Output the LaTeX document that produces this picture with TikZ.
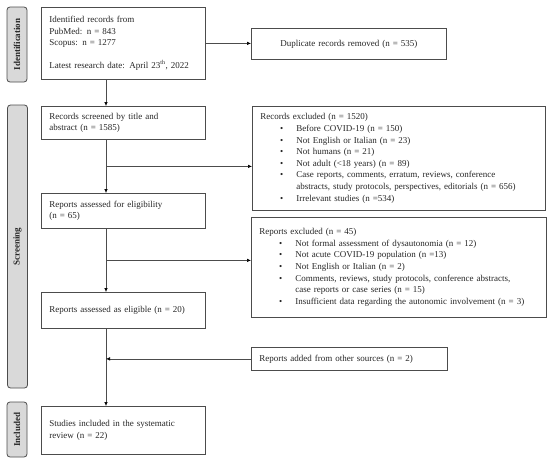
\documentclass[tikz,border=0pt]{standalone}
\usepackage{fontspec}
\setmainfont{Liberation Serif}
\usetikzlibrary{arrows.meta,calc}
\newcommand{\bitem}[1]{\makebox[36pt][r]{\textbullet\hspace{13pt}}#1}
\newcommand{\bcont}{\hspace*{36pt}}
\tikzset{
  box/.style={draw=black!70, line width=0.8pt, anchor=north west, inner xsep=8pt, inner ysep=0pt,
    align=left, font=\fontsize{9}{11.6}\selectfont, text=black!85},
  side/.style={draw=black!70, fill=black!15, line width=0.8pt, rounded corners=3pt, rotate=90,
    minimum height=20pt, inner sep=0pt, font=\fontsize{9}{11}\selectfont\bfseries, text=black!85},
  arr/.style={draw=black!70, line width=0.6pt, -{Latex[length=4pt,width=3.5pt,black]}},
}

\begin{document}
\begin{tikzpicture}[x=1pt,y=-1pt]
  \useasboundingbox (0,0) rectangle (550,463);

  \node[side, minimum width=75pt] (idlab) at (17,44.5) {Identification};
  \node[side, minimum width=283pt] (screenlab) at (17.5,246.5) {Screening};
  \node[side, minimum width=55pt] (incllab) at (17,429.5) {Included};

  \node[box, text width=148pt, minimum height=72pt] (ident) at (41,7)
    {Identified records from\\PubMed: n = 843\\Scopus: n = 1277\\[11.6pt]Latest research date: April 23\textsuperscript{th}, 2022};
  \node[box, text width=179pt, minimum height=31pt, align=center] (dup) at (251,28)
    {Duplicate records removed (n = 535)};
  \node[box, text width=148pt, minimum height=33pt] (screened) at (41,106)
    {Records screened by title and\\abstract (n = 1585)};
  \node[box, text width=277pt, minimum height=104pt] (recexcl) at (252,106)
    {Records excluded (n = 1520)\\
     \bitem{Before COVID-19 (n = 150)}\\
     \bitem{Not English or Italian (n = 23)}\\
     \bitem{Not humans (n = 21)}\\
     \bitem{Not adult (<18 years) (n = 89)}\\
     \bitem{Case reports, comments, erratum, reviews, conference}\\
     \bcont abstracts, study protocols, perspectives, editorials (n = 656)\\
     \bitem{Irrelevant studies (n =534)}};
  \node[box, text width=148pt, minimum height=35pt] (elig) at (41,193)
    {Reports assessed for eligibility\\(n = 65)};
  \node[box, text width=279pt, minimum height=100pt] (repexcl) at (251,217)
    {Reports excluded (n = 45)\\
     \bitem{Not formal assessment of dysautonomia (n = 12)}\\
     \bitem{Not acute COVID-19 population (n =13)}\\
     \bitem{Not English or Italian (n = 2)}\\
     \bitem{Comments, reviews, study protocols, conference abstracts,}\\
     \bcont case reports or case series (n = 15)\\
     \bitem{Insufficient data regarding the autonomic involvement (n = 3)}};
  \node[box, text width=148pt, minimum height=36pt] (eligible) at (41,292)
    {Reports assessed as eligible (n = 20)};
  \node[box, text width=180pt, minimum height=23pt] (added) at (251,347)
    {Reports added from other sources (n = 2)};
  \node[box, text width=148pt, minimum height=48pt] (included) at (41,406)
    {Studies included in the systematic\\review (n = 22)};

  \coordinate (spine) at (106,0);
  \coordinate (b1) at ($(screened.south -| spine)!0.5!(elig.north -| spine)$);
  \coordinate (b2) at ($(elig.south -| spine)!0.5!(eligible.north -| spine)$);

  \draw[arr] (ident.east) -- (ident.east -| dup.west);
  \draw[arr] (ident.south -| spine) -- (screened.north -| spine);
  \draw[arr] (screened.south -| spine) -- (elig.north -| spine);
  \draw[arr] (b1) -- (b1 -| recexcl.west);
  \draw[arr] (elig.south -| spine) -- (eligible.north -| spine);
  \draw[arr] (b2) -- (b2 -| repexcl.west);
  \draw[arr] (eligible.south -| spine) -- (included.north -| spine);
  \draw[arr] (added.west) -- (added.west -| spine);
\end{tikzpicture}
\end{document}
